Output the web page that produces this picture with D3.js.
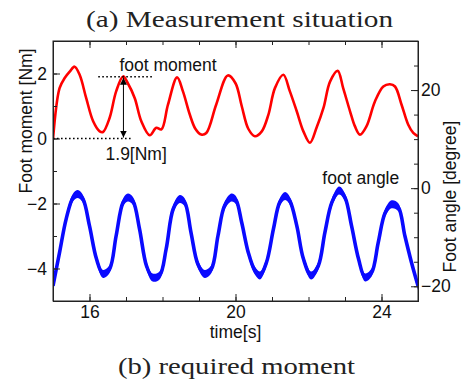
<!doctype html>
<html>
<head>
<meta charset="UTF-8">
<title>Foot moment and foot angle</title>
<script src="https://cdn.jsdelivr.net/npm/d3@7/dist/d3.min.js"></script>
<style>
  body { margin: 0; background: #fff; }
  svg text { font-family: "Liberation Sans", Arial, Helvetica, sans-serif; fill: #111; }
  .axis path, .axis line { stroke: #222; }
</style>
</head>
<body>
<svg id="chart" width="462" height="385"></svg>
<script>
// ---- data ----
// foot moment [Nm], red, left axis
var momentTime = [15.00, 15.18, 15.32, 15.46, 15.59, 15.73, 15.91, 16.10, 16.28, 16.37, 16.55, 16.73, 16.92,
  17.05, 17.24, 17.42, 17.65, 17.83, 17.97, 18.15, 18.40, 18.56, 18.75, 18.90, 19.06, 19.20, 19.47, 19.79,
  20.00, 20.17, 20.35, 20.53, 20.72, 20.90, 21.08, 21.31, 21.49, 21.68, 21.86, 22.04, 22.22, 22.41, 22.59,
  22.80, 22.95, 23.14, 23.27, 23.41, 23.59, 23.82, 24.05, 24.23, 24.37, 24.55, 24.73, 24.87, 25.00];
var momentValue = [-0.03, 1.55, 1.86, 2.06, 2.21, 1.96, 1.24, 0.53, 0.22, 0.20, 0.63, 1.45, 1.91,
  1.70, 1.24, 0.53, 0.10, 0.33, 0.28, 1.04, 1.88, 1.45, 0.73, 0.30, 0.12, 0.17, 1.04, 1.94,
  1.70, 1.00, 0.30, 0.07, 0.22, 0.73, 1.55, 1.96, 1.45, 0.83, 0.22, -0.13, 0.33, 0.94, 1.75,
  2.08, 1.55, 0.83, 0.38, 0.12, 0.38, 1.14, 1.60, 1.67, 1.60, 1.04, 0.43, 0.17, 0.07];

// foot angle [degree], blue, right axis
var angleTime = [15.00, 15.18, 15.36, 15.55, 15.68, 15.82, 16.00, 16.19, 16.37, 16.55, 16.73, 16.92, 17.05,
  17.19, 17.37, 17.56, 17.73, 17.92, 18.10, 18.29, 18.47, 18.61, 18.78, 18.97, 19.16, 19.34, 19.52, 19.70,
  19.89, 20.01, 20.17, 20.35, 20.53, 20.67, 20.85, 21.04, 21.21, 21.36, 21.49, 21.68, 21.86, 22.07, 22.27,
  22.45, 22.64, 22.84, 23.00, 23.18, 23.37, 23.55, 23.73, 23.91, 24.10, 24.28, 24.46, 24.64, 24.82, 25.00];
var angleValue = [-19.9, -13.1, -6.3, -1.9, -1.2, -2.2, -7.7, -14.4, -17.5, -16.5, -9.7, -2.9, -1.9,
  -2.6, -8.3, -15.8, -18.2, -17.8, -12.4, -4.3, -2.2, -2.9, -9.0, -15.5, -17.5, -16.5, -9.7, -3.6,
  -1.9, -2.4, -7.0, -13.1, -16.8, -17.8, -15.1, -8.3, -2.9, -1.6, -2.6, -7.7, -14.4, -17.8, -15.8,
  -9.0, -2.9, -0.5, -1.9, -7.7, -14.4, -18.2, -17.2, -11.1, -5.0, -3.3, -3.9, -9.7, -15.1, -19.9];

var timeTicks = [16, 20, 24];
var momentTicks = [-4, -2, 0, 2];
var angleTicks = [-20, 0, 20];

var peakLevel = 1.9;   // annotated amplitude [Nm]

// ---- layout ----
var svg = d3.select("#chart"),
    margin = {top: 41, right: 44, bottom: 84, left: 53},
    width = +svg.attr("width") - margin.left - margin.right,
    height = +svg.attr("height") - margin.top - margin.bottom,
    g = svg.append("g").attr("transform", "translate(" + margin.left + "," + margin.top + ")");

var x = d3.scaleLinear().domain([15, 25]).range([0, width]),
    yL = d3.scaleLinear().domain([-5, 3]).range([height, 0]),
    yR = d3.scaleLinear().domain([-23, 30]).range([height, 0]);

var moment = momentTime.map(function(t, i) { return {t: t, v: momentValue[i]}; });
var angle = angleTime.map(function(t, i) { return {t: t, v: angleValue[i]}; });

svg.append("defs").append("clipPath").attr("id", "plotclip")
  .append("rect").attr("width", width).attr("height", height);

var plot = g.append("g").attr("clip-path", "url(#plotclip)");

// blue: noisy band -> vertical band plus a line for the steep parts
var angleArea = d3.area()
  .curve(d3.curveCatmullRom.alpha(0.5))
  .x(function(d) { return x(d.t); })
  .y0(function(d) { return yR(d.v) - 4; })
  .y1(function(d) { return yR(d.v) + 4; });
var angleLine = d3.line()
  .curve(d3.curveCatmullRom.alpha(0.5))
  .x(function(d) { return x(d.t); })
  .y(function(d) { return yR(d.v); });

plot.append("path").datum(angle)
  .attr("d", angleArea)
  .attr("fill", "#0a0aff");
plot.append("path").datum(angle)
  .attr("d", angleLine)
  .attr("fill", "none")
  .attr("stroke", "#0a0aff")
  .attr("stroke-width", 3.6);

// red: foot moment
var momentLine = d3.line()
  .curve(d3.curveCatmullRom.alpha(0.5))
  .x(function(d) { return x(d.t); })
  .y(function(d) { return yL(d.v); });

plot.append("path").datum(moment)
  .attr("d", momentLine)
  .attr("fill", "none")
  .attr("stroke", "#ff0000")
  .attr("stroke-width", 2.6)
  .attr("stroke-linejoin", "round");

// ---- axes (ticks pointing inward) ----
var fs = "17.5px";

g.append("g").attr("class", "axis")
  .attr("transform", "translate(0," + height + ")")
  .call(d3.axisBottom(x).tickValues(d3.range(15, 26)).tickSize(-4).tickFormat(""));
g.append("g").attr("class", "axis")
  .attr("transform", "translate(0," + height + ")")
  .call(d3.axisBottom(x).tickValues(timeTicks).tickSizeInner(-7).tickSizeOuter(0).tickPadding(4.5))
  .call(function(a) { a.selectAll("text").style("font-size", fs); });

g.append("g").attr("class", "axis")
  .call(d3.axisTop(x).tickValues(d3.range(15, 26)).tickSize(-4).tickFormat(""));
g.append("g").attr("class", "axis")
  .call(d3.axisTop(x).tickValues(timeTicks).tickSizeInner(-7).tickSizeOuter(0).tickFormat(""));

g.append("g").attr("class", "axis")
  .call(d3.axisLeft(yL).tickValues(d3.range(-5, 4)).tickSize(-4).tickFormat(""));
g.append("g").attr("class", "axis")
  .call(d3.axisLeft(yL).tickValues(momentTicks).tickSizeInner(-7).tickSizeOuter(0).tickPadding(6))
  .call(function(a) { a.selectAll("text").style("font-size", fs); });

g.append("g").attr("class", "axis")
  .attr("transform", "translate(" + width + ",0)")
  .call(d3.axisRight(yR).tickValues(d3.range(-20, 30, 5)).tickSize(-4).tickFormat(""));
g.append("g").attr("class", "axis")
  .attr("transform", "translate(" + width + ",0)")
  .call(d3.axisRight(yR).tickValues(angleTicks).tickSizeInner(-7).tickSizeOuter(0).tickPadding(3))
  .call(function(a) { a.selectAll("text").style("font-size", fs); });

// axis labels
g.append("text")
  .attr("x", width / 2).attr("y", height + 37)
  .attr("text-anchor", "middle").style("font-size", fs)
  .text("time[s]");
g.append("text")
  .attr("transform", "translate(-21," + yL(0.54) + ") rotate(-90)")
  .attr("text-anchor", "middle").style("font-size", fs)
  .text("Foot moment [Nm]");
g.append("text")
  .attr("transform", "translate(" + (width + 38) + "," + yR(-1.7) + ") rotate(-90)")
  .attr("text-anchor", "middle").style("font-size", fs)
  .text("Foot angle [degree]");

// ---- annotation ----
function dottedLine(x1, x2, level) {
  g.append("line")
    .attr("x1", x(x1)).attr("x2", x(x2))
    .attr("y1", yL(level)).attr("y2", yL(level))
    .attr("stroke", "#000").attr("stroke-width", 1.6)
    .attr("stroke-dasharray", "1.6,2.4");
}
dottedLine(15.0, 17.15, 0);
dottedLine(16.24, 17.71, peakLevel);

svg.select("defs").append("marker")
  .attr("id", "arrowhead")
  .attr("viewBox", "0 0 10 10").attr("refX", 10).attr("refY", 5)
  .attr("markerWidth", 7).attr("markerHeight", 7)
  .attr("markerUnits", "userSpaceOnUse")
  .attr("orient", "auto-start-reverse")
  .append("path").attr("d", "M0,0L10,5L0,10Z").attr("fill", "#000");

g.append("line")
  .attr("x1", x(16.93)).attr("x2", x(16.93))
  .attr("y1", yL(peakLevel) + 1).attr("y2", yL(0) - 1)
  .attr("stroke", "#000").attr("stroke-width", 1)
  .attr("marker-start", "url(#arrowhead)")
  .attr("marker-end", "url(#arrowhead)");

g.append("text")
  .attr("x", x(16.44)).attr("y", yL(0) + 21)
  .style("font-size", fs)
  .text("1.9[Nm]");
g.append("text")
  .attr("x", x(16.82)).attr("y", 30)
  .style("font-size", fs)
  .text("foot moment");
g.append("text")
  .attr("x", x(22.38)).attr("y", 143)
  .style("font-size", fs)
  .text("foot angle");

// ---- captions ----
svg.append("text")
  .attr("x", 239.5).attr("y", 27)
  .attr("text-anchor", "middle")
  .attr("textLength", 307).attr("lengthAdjust", "spacingAndGlyphs")
  .style("font-family", "'Liberation Serif', 'Times New Roman', serif")
  .style("font-size", "23px").style("fill", "#222")
  .text("(a) Measurement situation");
svg.append("text")
  .attr("x", 236.5).attr("y", 374)
  .attr("text-anchor", "middle")
  .attr("textLength", 237).attr("lengthAdjust", "spacingAndGlyphs")
  .style("font-family", "'Liberation Serif', 'Times New Roman', serif")
  .style("font-size", "23px").style("fill", "#222")
  .text("(b) required moment");

// plot frame
g.append("rect")
  .attr("width", width).attr("height", height)
  .attr("fill", "none").attr("stroke", "#222").attr("stroke-width", 1);
</script>
</body>
</html>
